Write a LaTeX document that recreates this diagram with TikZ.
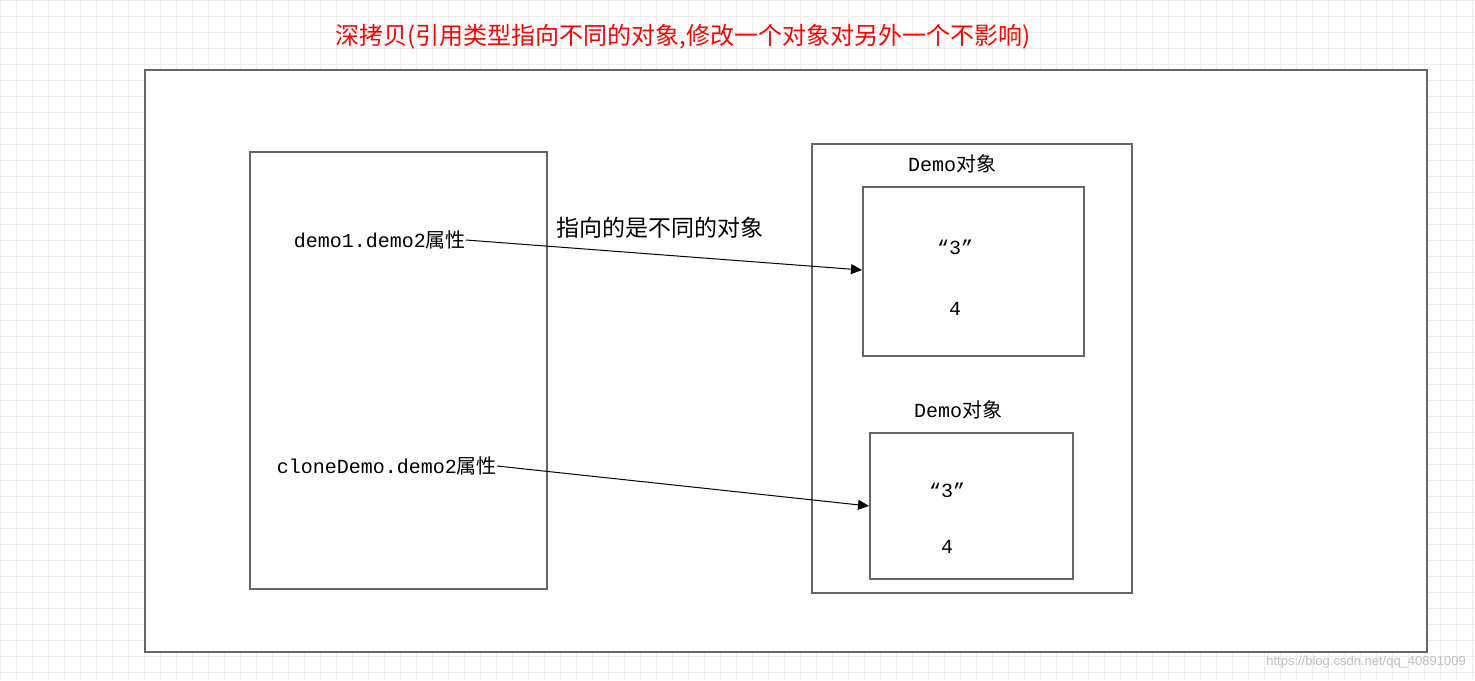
\documentclass[tikz,border=0pt]{standalone}
\usepackage{fontspec}
\setmainfont{Liberation Mono}
\newfontfamily\cjk{Noto Sans CJK SC}
\newfontfamily\sans{Liberation Sans}
\usetikzlibrary{arrows.meta}
\begin{document}
\begin{tikzpicture}[x=1pt,y=-1pt,
  box/.style={draw=black!60,line width=1.6pt},
  lab/.style={font=\fontsize{20}{24}\selectfont,inner sep=0pt},
  arr/.style={-{Triangle[length=11pt,width=10pt]},line width=1pt}]
\useasboundingbox (0,0) rectangle (1475,680);
\fill[white] (0,0) rectangle (1475,680);
\foreach \i in {0,16,...,1475} \draw[black!7,line width=0.5pt] (\i,0) -- (\i,680);
\foreach \j in {0,16,...,680} \draw[black!7,line width=0.5pt] (0,\j) -- (1475,\j);
\node[lab,text=red,font=\cjk\fontsize{24}{28}\selectfont] (title) at (683,37) {深拷贝(引用类型指向不同的对象,修改一个对象对另外一个不影响)};
\draw[box,fill=white] (145,70) rectangle (1427,652);
\node[box,minimum width=297,minimum height=437,inner sep=0,anchor=north west] (left) at (249,151) {};
\node[box,minimum width=320,minimum height=449,inner sep=0,anchor=north west] (right) at (811,143) {};
\node[box,minimum width=221,minimum height=169,inner sep=0,anchor=north west] (b1) at (862,186) {};
\node[box,minimum width=203,minimum height=146,inner sep=0,anchor=north west] (b2) at (869,432) {};
\node[lab] (l1) at (952,164) {Demo{\cjk 对象}};
\node[lab] (l2) at (958,410) {Demo{\cjk 对象}};
\node[lab] (q1) at (955,247) {“3”};
\node[lab] (f1) at (955,309) {4};
\node[lab] (q2) at (947,490) {“3”};
\node[lab] (f2) at (947,547) {4};
\node[lab,anchor=east] (a1) at (466,240) {demo1.demo2{\cjk 属性}};
\node[lab,anchor=east] (a2) at (497,466) {cloneDemo.demo2{\cjk 属性}};
\node[lab,font=\cjk\fontsize{23}{26}\selectfont] (t) at (660,228) {指向的是不同的对象};
\draw[arr] (a1.east) -- (b1.west |- 0,270);
\draw[arr] (a2.east) -- (b2.west |- 0,506);
\node[lab,text=black!25,font=\sans\fontsize{13}{15}\selectfont,anchor=east] (w) at (1466,662) {https://blog.csdn.net/qq\_40891009};
\end{tikzpicture}
\end{document}
